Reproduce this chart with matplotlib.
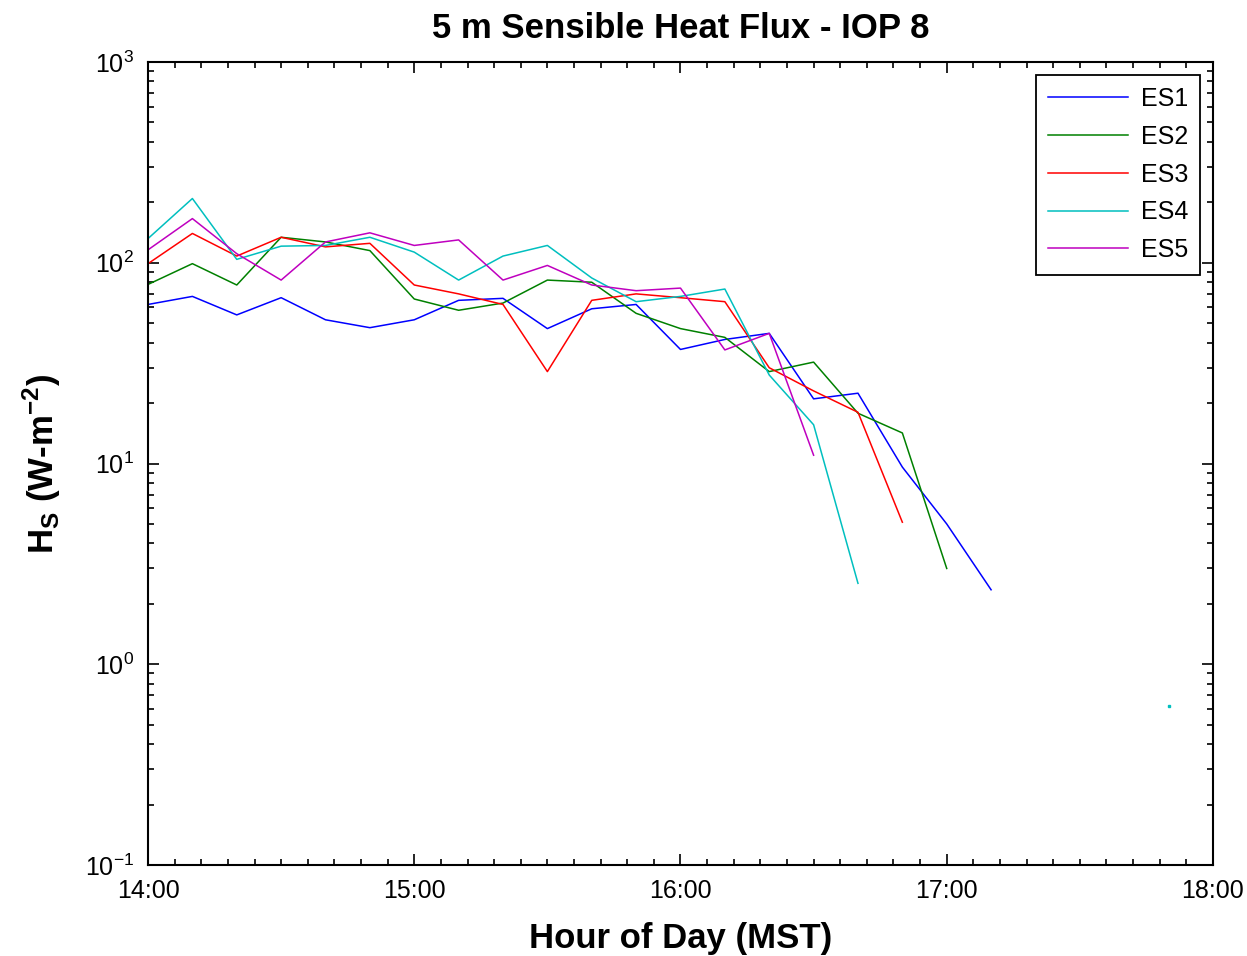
import numpy as np
import matplotlib
matplotlib.use('Agg')
import matplotlib.pyplot as plt
from matplotlib.ticker import FixedLocator, FuncFormatter, LogLocator, NullFormatter

plt.rcParams['font.family'] = ['Liberation Sans', 'DejaVu Sans']

# time stamps every 10 minutes, 14:00 - 17:50
times = ['14:00', '14:10', '14:20', '14:30', '14:40', '14:50',
         '15:00', '15:10', '15:20', '15:30', '15:40', '15:50',
         '16:00', '16:10', '16:20', '16:30', '16:40', '16:50',
         '17:00', '17:10', '17:20', '17:30', '17:40', '17:50']
nan = np.nan

es1 = [62, 68, 55, 67, 52, 47.5, 52, 65, 66.5, 47, 59, 62,
       37, 41.5, 44.5, 21, 22.4, 9.6, 5.0, 2.35, nan, nan, nan, nan]
es2 = [78, 99, 77.5, 134, 127, 115, 66, 58, 63, 82, 80, 56,
       47, 42.5, 28.7, 32, 17.8, 14.2, 3.0, nan, nan, nan, nan, nan]
es3 = [99, 140, 108, 134, 120, 125, 77.5, 70, 62, 28.7, 65, 70,
       67, 64, 30, 23, 18, 5.1, nan, nan, nan, nan, nan, nan]
es4 = [132, 209, 104, 121, 122, 134, 113, 82, 108, 122, 84, 64,
       68, 74, 27.6, 15.6, 2.53, nan, nan, nan, nan, nan, nan, 0.62]
es5 = [116, 166, 111, 82, 127, 141, 122, 130, 82, 97, 77.5, 72.6,
       74.8, 36.8, 44.5, 11.0, nan, nan, nan, nan, nan, nan, nan, nan]

names = ['ES1', 'ES2', 'ES3', 'ES4', 'ES5']
colors = ['#0000ff', '#008000', '#ff0000', '#00bfbf', '#bf00bf']

hours = np.array([int(t[:2]) + int(t[3:]) / 60 for t in times])

fig = plt.figure(figsize=(12.47, 9.56), dpi=100)
ax = fig.add_axes([0.1187, 0.0952, 0.854, 0.8399])

for name, vals, c in zip(names, [es1, es2, es3, es4, es5], colors):
    v = np.array(vals, dtype=float)
    ax.plot(hours, v, color=c, lw=1.1, label=name)
    # isolated points would not show as a line, draw them as dots
    ok = ~np.isnan(v)
    prev = np.r_[False, ok[:-1]]
    nxt = np.r_[ok[1:], False]
    lone = ok & ~prev & ~nxt
    if lone.any():
        ax.plot(hours[lone], v[lone], ls='none', marker='s', ms=1.5, color=c)

ax.set_yscale('log')
ax.set_ylim(0.1, 1000)
ax.set_xlim(14, 18)

ax.xaxis.set_major_locator(FixedLocator([14, 15, 16, 17, 18]))
ax.xaxis.set_minor_locator(FixedLocator(np.arange(14, 18.001, 0.1)))
ax.xaxis.set_major_formatter(FuncFormatter(lambda x, p: '%d:00' % round(x)))
ax.yaxis.set_major_locator(LogLocator(base=10, numticks=10))
ax.yaxis.set_minor_locator(LogLocator(base=10, subs=np.arange(2, 10), numticks=10))
ax.yaxis.set_minor_formatter(NullFormatter())
ax.yaxis.set_major_formatter(FuncFormatter(
    lambda y, p: r'$\mathregular{10^{%d}}$' % round(np.log10(y))))

ax.tick_params(which='both', direction='in', top=True, right=True,
               labelsize=18, width=1.2)
ax.tick_params(axis='x', pad=10)
ax.tick_params(axis='y', pad=10)
ax.tick_params(which='major', length=8)
ax.tick_params(which='minor', length=4.5)
for s in ax.spines.values():
    s.set_linewidth(1.5)

ax.set_title('5 m Sensible Heat Flux - IOP 8', fontsize=25, fontweight='bold', pad=17)
ax.set_xlabel('Hour of Day (MST)', fontsize=25, fontweight='bold', labelpad=14)
ax.set_ylabel(r'H$_\mathregular{S}$ (W-m$^\mathregular{-2}$)', fontsize=25,
              fontweight='bold', labelpad=16)

leg = ax.legend(loc='upper right', fontsize=18, fancybox=False, framealpha=1,
                edgecolor='black', handlelength=3.2, borderaxespad=0.5,
                labelspacing=0.55, handletextpad=0.5, borderpad=0.5)
leg.get_frame().set_linewidth(1.3)

fig.savefig('out.png', dpi=100)
